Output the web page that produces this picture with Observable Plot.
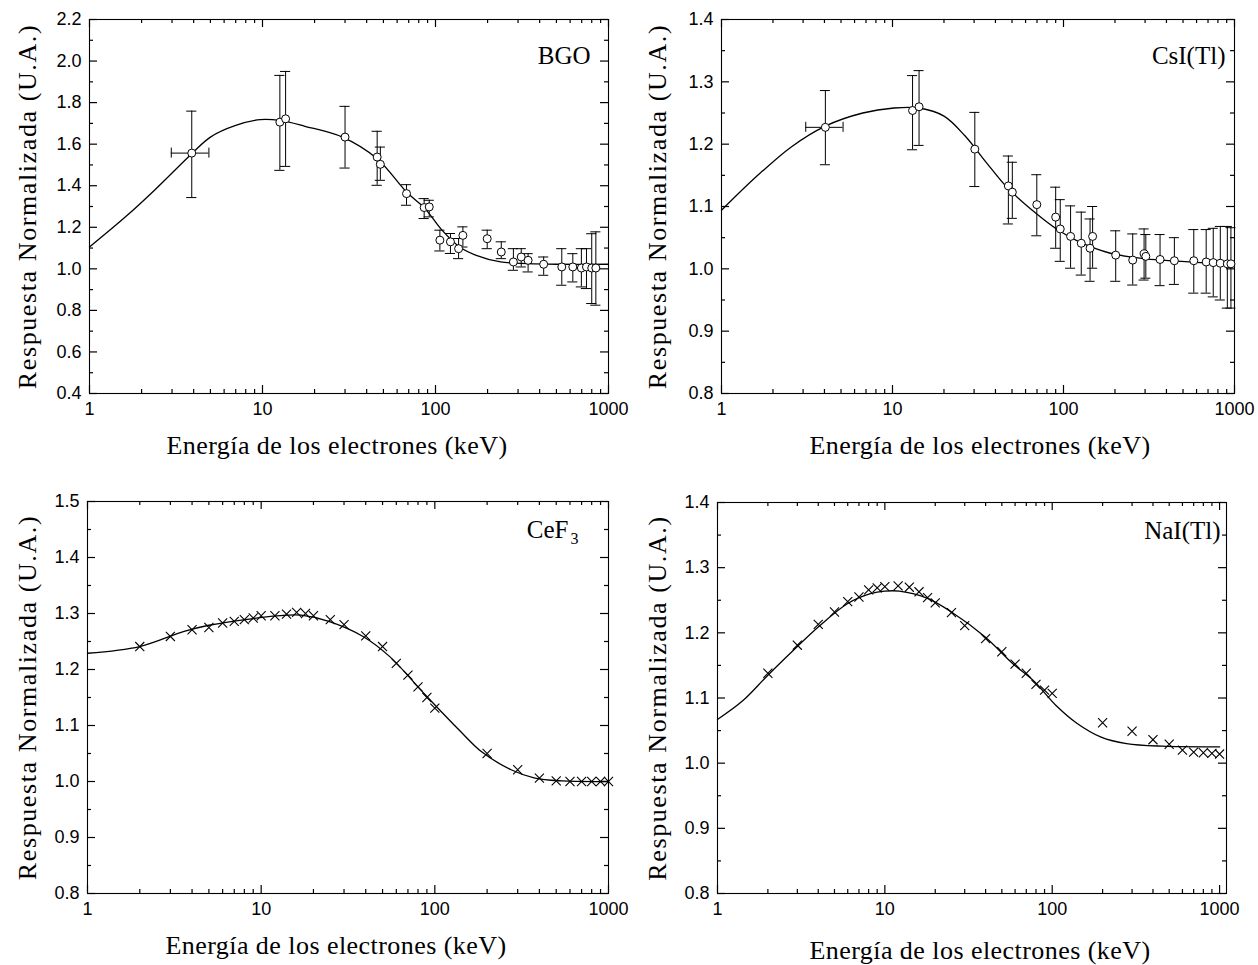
<!DOCTYPE html>
<html><head><meta charset="utf-8">
<script src="https://cdn.jsdelivr.net/npm/d3@7"></script>
<script src="https://cdn.jsdelivr.net/npm/@observablehq/plot@0.6"></script>
<style>
body{margin:0;background:#fff;}
#fig{position:relative;width:1258px;height:965px;background:#fff;overflow:hidden;}
.panel{position:absolute;}
</style></head><body><div id="fig">
<div class="panel" id="pA" style="left:0;top:0"></div>
<div class="panel" id="pB" style="left:629px;top:0"></div>
<div class="panel" id="pC" style="left:0;top:482px"></div>
<div class="panel" id="pD" style="left:629px;top:482px"></div>
</div>
<script>
// ---------- axis ticks ----------
const xMajor = [1, 10, 100, 1000];
const xMinor = [2,3,4,5,6,7,8,9,20,30,40,50,60,70,80,90,200,300,400,500,600,700,800,900];
const yMajorA = [0.4,0.6,0.8,1.0,1.2,1.4,1.6,1.8,2.0,2.2];
const yMinorA = [0.5,0.7,0.9,1.1,1.3,1.5,1.7,1.9,2.1];
const yMajorB = [0.8,0.9,1.0,1.1,1.2,1.3,1.4];
const yMinorB = [0.85,0.95,1.05,1.15,1.25,1.35];
const yMajorC = [0.8,0.9,1.0,1.1,1.2,1.3,1.4,1.5];
const yMinorC = [0.85,0.95,1.05,1.15,1.25,1.35,1.45];

// ---------- BGO ----------
const bgoE  = [3.9,12.6,13.6,30,46,48,68,86,92,106,122,136,144,199,240,282,313,343,422,537,622,697,746,800,845];
const bgoR  = [1.557,1.706,1.722,1.634,1.538,1.503,1.362,1.295,1.298,1.138,1.130,1.097,1.161,1.145,1.081,1.033,1.057,1.041,1.022,1.009,1.009,1.004,1.009,1.004,1.004];
const bgoLo = [1.343,1.474,1.493,1.485,1.402,1.426,1.306,1.242,1.250,1.086,1.074,1.049,1.105,1.097,1.049,0.993,1.009,0.985,0.969,0.921,0.937,0.913,0.905,0.833,0.825];
const bgoHi = [1.759,1.931,1.950,1.782,1.662,1.586,1.405,1.338,1.330,1.186,1.170,1.146,1.202,1.186,1.130,1.097,1.097,1.073,1.057,1.097,1.073,1.097,1.097,1.169,1.178];
const bgoXerr = [{e: 3.9, r: 1.557, lo: 2.97, hi: 4.9}];
const bgoFitE = [1,1.64,2.4,3.9,5,7,9.7,12.6,17.6,29,46,68,87,109,138,172,238,343,500,1000];
const bgoFitR = [1.105,1.255,1.382,1.554,1.634,1.69,1.718,1.714,1.686,1.634,1.53,1.37,1.29,1.186,1.105,1.065,1.033,1.025,1.022,1.022];

// ---------- CsI(Tl) ----------
const csiE  = [4.05,13.1,14.3,30.3,47.6,50.2,69.8,90,95.7,110,127,143,148,202,254,296,303,367,445,578,683,751,826,908,953];
const csiR  = [1.227,1.254,1.26,1.192,1.133,1.123,1.103,1.083,1.064,1.052,1.041,1.033,1.052,1.022,1.014,1.024,1.02,1.015,1.013,1.013,1.011,1.01,1.009,1.008,1.008];
const csiLo = [1.167,1.191,1.198,1.132,1.072,1.081,1.053,1.033,1.012,1.001,0.99,0.98,1.001,0.98,0.974,0.982,0.985,0.973,0.975,0.961,0.961,0.955,0.95,0.937,0.937];
const csiHi = [1.286,1.31,1.318,1.251,1.181,1.171,1.151,1.131,1.111,1.101,1.091,1.08,1.1,1.061,1.056,1.064,1.055,1.055,1.05,1.063,1.063,1.065,1.068,1.068,1.066];
const csiXerr = [{e: 4.05, r: 1.227, lo: 3.11, hi: 5.14}];
const csiFitE = [1,1.6,2.57,4.05,6.7,10.2,14.3,20,26.6,35.5,47,69,92,122,188,303,490,1000];
const csiFitR = [1.094,1.148,1.196,1.229,1.25,1.258,1.258,1.245,1.213,1.17,1.13,1.089,1.063,1.044,1.025,1.016,1.012,1.006];

// ---------- CeF3 ----------
const ceE = [2,3,4,5,6,7,8,9,10,12,14,16,18,20,25,30,40,50,60,70,80,90,100,200,300,400,500,600,700,800,900,1000];
const ceR = [1.241,1.259,1.271,1.275,1.283,1.286,1.289,1.292,1.296,1.296,1.299,1.302,1.300,1.296,1.289,1.280,1.260,1.241,1.211,1.190,1.169,1.150,1.131,1.050,1.021,1.006,1.001,1.0,1.0,1.0,1.0,1.0];
const ceFitE = [1,2,3.6,5,9,14,17,24.5,38.6,55,88,138,186,275,377,540,1000];
const ceFitR = [1.229,1.241,1.268,1.279,1.291,1.297,1.297,1.286,1.259,1.223,1.155,1.092,1.053,1.021,1.006,1.001,1.0];

// ---------- NaI(Tl) ----------
const naE = [2,3,4,5,6,7,8,9,10,12,14,16,18,20,25,30,40,50,60,70,80,90,100,200,300,400,500,600,700,800,900,1000];
const naR = [1.138,1.181,1.213,1.232,1.248,1.255,1.266,1.269,1.271,1.272,1.27,1.263,1.254,1.246,1.231,1.211,1.191,1.171,1.152,1.138,1.121,1.112,1.107,1.062,1.049,1.036,1.029,1.02,1.017,1.016,1.015,1.014];
const naFitE = [1,1.42,2,3,4,6,8.2,10,12.2,18,25,39.6,58,78.4,105,141,196,278,455,1000];
const naFitR = [1.067,1.096,1.135,1.179,1.209,1.245,1.26,1.264,1.264,1.253,1.232,1.194,1.153,1.125,1.089,1.061,1.04,1.03,1.026,1.025];

const xTitle = "Energía de los electrones (keV)";
const yTitle = "Respuesta Normalizada (U.A.)";

const SERIF = '"Liberation Serif", "Times New Roman", serif';
const SANS = '"Liberation Sans", Arial, sans-serif';

function zip(E, R, extra = {}) {
  return E.map((e, i) => {
    const o = {e, r: R[i]};
    for (const k in extra) o[k] = extra[k][i];
    return o;
  });
}

function panel(cfg) {
  const [mL, mR, mT, mB] = cfg.m;
  const pw = cfg.width - mL - mR, ph = cfg.height - mT - mB;
  const yLen = px => px * (cfg.yDomain[1] - cfg.yDomain[0]) / ph;
  const fit = zip(cfg.fitE, cfg.fitR);
  const pts = cfg.lo ? zip(cfg.E, cfg.R, {lo: cfg.lo, hi: cfg.hi}) : zip(cfg.E, cfg.R);
  const tk = {stroke: "black", strokeWidth: 1.2};
  // inward ticks on all four sides: full-frame rules trimmed with insets
  const inward = (len, xs, ys) => [
    Plot.ruleX(xs, {x: d => d, insetTop: ph - len, ...tk}),
    Plot.ruleX(xs, {x: d => d, insetBottom: ph - len, ...tk}),
    Plot.ruleY(ys, {y: d => d, insetRight: pw - len, ...tk}),
    Plot.ruleY(ys, {y: d => d, insetLeft: pw - len, ...tk})
  ];
  const marks = [
    Plot.frame({stroke: "black", strokeWidth: 1.1}),
    ...inward(8, xMajor, cfg.yMajor),
    ...inward(4, xMinor, cfg.yMinor),
    Plot.axisX(xMajor, {anchor: "bottom", tickSize: 0, tickPadding: 9, tickFormat: d => String(d), fontSize: 18, fontFamily: SANS, label: null}),
    Plot.axisY(cfg.yMajor, {anchor: "left", tickSize: 0, tickPadding: 8, tickFormat: d => d.toFixed(1), fontSize: 18, fontFamily: SANS, label: null})
  ];
  if (cfg.lo) {
    marks.push(
      Plot.ruleX(pts, {x: "e", y1: "lo", y2: "hi", stroke: "black", strokeWidth: 1}),
      Plot.ruleY(pts, {y: "lo", x1: d => d.e / 1.07, x2: d => d.e * 1.07, stroke: "black", strokeWidth: 1}),
      Plot.ruleY(pts, {y: "hi", x1: d => d.e / 1.07, x2: d => d.e * 1.07, stroke: "black", strokeWidth: 1})
    );
  }
  if (cfg.xerr) {
    const cap = yLen(5);
    marks.push(
      Plot.ruleY(cfg.xerr, {y: "r", x1: "lo", x2: "hi", stroke: "black", strokeWidth: 1}),
      Plot.ruleX(cfg.xerr, {x: "lo", y1: d => d.r - cap, y2: d => d.r + cap, stroke: "black", strokeWidth: 1}),
      Plot.ruleX(cfg.xerr, {x: "hi", y1: d => d.r - cap, y2: d => d.r + cap, stroke: "black", strokeWidth: 1})
    );
  }
  marks.push(Plot.line(fit, {x: "e", y: "r", curve: "catmull-rom", stroke: "black", strokeWidth: 1.3}));
  if (cfg.symbol === "circle") {
    marks.push(Plot.dot(pts, {x: "e", y: "r", r: 4, stroke: "black", fill: "white", strokeWidth: 1}));
  } else {
    marks.push(Plot.dot(pts, {x: "e", y: "r", symbol: "times", r: 4.2, stroke: "black", strokeWidth: 1.1}));
  }
  // titles
  marks.push(
    Plot.text([xTitle], {frameAnchor: "bottom", dx: cfg.xdx, dy: cfg.xdy, lineAnchor: "bottom", textAnchor: "middle", fontFamily: SERIF, fontSize: 26, fill: "black"}),
    Plot.text([yTitle], {frameAnchor: "left", rotate: -90, dx: cfg.ydx, lineAnchor: "middle", textAnchor: "middle", fontFamily: SERIF, fontSize: 26, fill: "black"}),
    Plot.text([cfg.name], {frameAnchor: "top-right", dx: cfg.ndx, dy: cfg.ndy, lineAnchor: "bottom", textAnchor: "end", fontFamily: SERIF, fontSize: 25, fill: "black"})
  );
  if (cfg.sub) {
    marks.push(Plot.text([cfg.sub], {frameAnchor: "top-right", dx: cfg.ndx + 2, dy: cfg.ndy + 6, lineAnchor: "bottom", textAnchor: "start", fontFamily: SERIF, fontSize: 16, fill: "black"}));
  }
  const svg = Plot.plot({
    width: cfg.width, height: cfg.height,
    marginLeft: mL, marginRight: mR, marginTop: mT, marginBottom: mB,
    x: {type: "log", domain: cfg.xDomain},
    y: {domain: cfg.yDomain},
    style: {background: "white", color: "black", overflow: "visible"},
    marks
  });
  // letter spacing of the axis titles, as in the scanned original
  d3.select(svg).selectAll("text").each(function () {
    const t = this.textContent;
    if (t === yTitle) this.style.letterSpacing = "1.6px";
    else if (t === xTitle) this.style.letterSpacing = "0.45px";
  });
  return svg;
}

document.getElementById("pA").append(panel({
  width: 629, height: 482, m: [89, 21, 19, 89], xDomain: [1, 1000], yDomain: [0.4, 2.2],
  yMajor: yMajorA, yMinor: yMinorA, E: bgoE, R: bgoR, lo: bgoLo, hi: bgoHi, xerr: bgoXerr,
  fitE: bgoFitE, fitR: bgoFitR, symbol: "circle", name: "BGO",
  xdx: -12, xdy: 60, ydx: -62, ndx: -18, ndy: 44
}));
document.getElementById("pB").append(panel({
  width: 629, height: 482, m: [92, 24, 19, 89], xDomain: [1, 1000], yDomain: [0.8, 1.4],
  yMajor: yMajorB, yMinor: yMinorB, E: csiE, R: csiR, lo: csiLo, hi: csiHi, xerr: csiXerr,
  fitE: csiFitE, fitR: csiFitR, symbol: "circle", name: "CsI(Tl)",
  xdx: 2, xdy: 60, ydx: -64, ndx: -9, ndy: 44
}));
document.getElementById("pC").append(panel({
  width: 629, height: 483, m: [87, 21, 19, 72], xDomain: [1, 1000], yDomain: [0.8, 1.5],
  yMajor: yMajorC, yMinor: yMinorC, E: ceE, R: ceR,
  fitE: ceFitE, fitR: ceFitR, symbol: "times", name: "CeF", sub: "3",
  xdx: -12, xdy: 60, ydx: -60, ndx: -40, ndy: 36
}));
document.getElementById("pD").append(panel({
  width: 629, height: 483, m: [88, 32, 20, 72], xDomain: [1, 1100], yDomain: [0.8, 1.4],
  yMajor: yMajorB, yMinor: yMinorB, E: naE, R: naR,
  fitE: naFitE, fitR: naFitR, symbol: "times", name: "NaI(Tl)",
  xdx: 8, xdy: 65, ydx: -60, ndx: -6, ndy: 36
}));
</script></body></html>
